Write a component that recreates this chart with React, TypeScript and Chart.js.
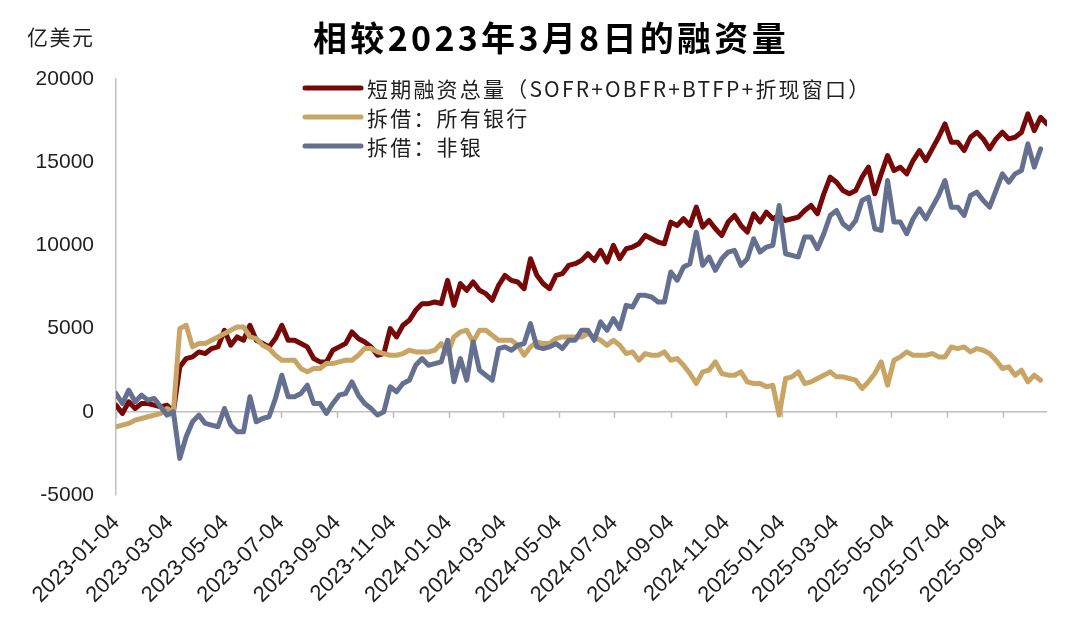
import React, { useEffect, useRef } from 'react';
import { Chart, registerables } from 'chart.js';

Chart.register(...registerables);

// ---------- data ----------
const titleText = '相较2023年3月8日的融资量';
const unitText = '亿美元';
const startDate = '2023-01-04'; // weekly observations (Wednesdays)

const tickLabels = [
  '2023-01-04', '2023-03-04', '2023-05-04', '2023-07-04', '2023-09-04', '2023-11-04',
  '2024-01-04', '2024-03-04', '2024-05-04', '2024-07-04', '2024-09-04', '2024-11-04',
  '2025-01-04', '2025-03-04', '2025-05-04', '2025-07-04', '2025-09-04',
];

const seriesNames = [
  '短期融资总量（SOFR+OBFR+BTFP+折现窗口）',
  '拆借：所有银行',
  '拆借：非银',
];

const totalFunding = [
  400, -100, 600, 200, 500, 500, 400, 300, 400, 0,
  2700, 3200, 3300, 3600, 3500, 3800, 3900, 4900, 4000, 4500,
  4300, 5200, 4300, 4100, 3900, 4400, 5200, 4300, 4300, 4100,
  3900, 3200, 3000, 3000, 3700, 3900, 4100, 4800, 4400, 4200,
  3900, 3400, 3500, 5000, 4500, 5200, 5500, 6100, 6500, 6500,
  6600, 6500, 7900, 6400, 7700, 7300, 7800, 7300, 7100, 6700,
  7600, 8200, 7900, 7800, 7400, 9200, 8200, 7700, 7400, 8200,
  8300, 8800, 8900, 9100, 9500, 9100, 9700, 9000, 10000, 9200,
  9800, 9900, 10100, 10600, 10400, 10200, 10100, 11400, 11200, 11600,
  11200, 12300, 11100, 11500, 11000, 10600, 11400, 11800, 11200, 10800,
  11900, 11400, 12000, 11600, 11800, 11500, 11600, 11700, 12100, 12400,
  11900, 13100, 14100, 13800, 13300, 13100, 13300, 14100, 14700, 13100,
  14300, 15400, 14500, 14700, 14300, 15100, 15700, 15100, 15800, 16500,
  17300, 16200, 16200, 15700, 16500, 16800, 16400, 15800, 16400, 16800,
  16400, 16500, 16800, 17900, 16900, 17700, 17300,
];

const allBanks = [
  -900, -800, -700, -500, -400, -300, -200, -100, 200, 0,
  5000, 5200, 3900, 4100, 4100, 4300, 4500, 4700, 4900, 5100,
  5100, 4500, 4400, 4000, 3800, 3400, 3100, 3100, 3100, 2600,
  2400, 2600, 2600, 2900, 2900, 3000, 3100, 3100, 3400, 3800,
  3800, 3600, 3500, 3400, 3400, 3500, 3700, 3600, 3600, 3600,
  3700, 4100, 3500, 4500, 4800, 4900, 4200, 4900, 4900, 4600,
  4300, 4300, 4300, 4000, 3400, 3900, 4200, 4100, 4100, 4400,
  4500, 4500, 4500, 4500, 4700, 4500, 4300, 4000, 4300, 4000,
  3500, 3600, 3100, 3500, 3400, 3400, 3600, 3100, 3200, 2800,
  2300, 1700, 2400, 2500, 3000, 2300, 2200, 2200, 2400, 1800,
  1700, 1700, 1500, 1600, -200, 2000, 2100, 2400, 1700, 1800,
  2000, 2200, 2400, 2100, 2100, 2000, 1900, 1400, 1800, 2300,
  3000, 1600, 3100, 3300, 3600, 3400, 3400, 3400, 3500, 3300,
  3300, 3900, 3800, 3900, 3600, 3800, 3700, 3500, 3100, 2600,
  2700, 2200, 2500, 1800, 2200, 1900,
];

const nonBanks = [
  1100, 500, 1300, 600, 1000, 700, 800, 300, -200, 0,
  -2800, -1500, -600, -200, -700, -800, -900, 200, -800, -1200,
  -1200, 900, -600, -400, -300, 800, 2200, 900, 900, 1100,
  1600, 500, 500, -100, 500, 1000, 1100, 1800, 1000, 500,
  200, -200, 0, 1500, 1200, 1700, 1900, 2800, 3200, 2800,
  2900, 3000, 4300, 1800, 3200, 1900, 4200, 2500, 2200, 1900,
  3800, 3900, 3700, 4000, 4100, 5300, 3900, 3800, 3900, 4100,
  3800, 4300, 4300, 4900, 4900, 4300, 5400, 4900, 5600, 5000,
  6400, 6300, 7000, 7000, 6900, 6600, 6600, 8400, 7900, 8700,
  8900, 10800, 8800, 9300, 8500, 9200, 9600, 9700, 8800, 9200,
  10400, 9600, 9900, 10000, 12400, 9500, 9400, 9300, 10500, 10500,
  9800, 10700, 11800, 12100, 11300, 11000, 11500, 12700, 12900, 11000,
  10900, 13900, 11400, 11400, 10700, 11600, 12200, 11600, 12300, 13000,
  13900, 12300, 12300, 11800, 13000, 13200, 12700, 12300, 13300, 14300,
  13800, 14300, 14500, 16100, 14700, 15800,
];

const yTicks = [-5000, 0, 5000, 10000, 15000, 20000];

// ---------- helpers ----------
const DAY = 86400000;
const parse = (s: string) => {
  const [y, m, d] = s.split('-').map(Number);
  return Date.UTC(y, m - 1, d);
};
const startMs = parse(startDate);
const dayOffset = (s: string) => Math.round((parse(s) - startMs) / DAY);
const toPoints = (vals: number[]) => vals.map((v, i) => ({ x: i * 7, y: v }));
const tickDays = tickLabels.map(dayOffset);
const lastDay = (totalFunding.length - 1) * 7;

const COLORS = ['#760808', '#C8A564', '#657090'];
const AXIS = '#BFBFBF';
const TEXT = '#1f1f1f';
const CJK = '"Noto Sans CJK SC", "Noto Sans", sans-serif';
const LATIN = '"Liberation Sans", Arial, sans-serif';

const decorPlugin = {
  id: 'decor',
  beforeDatasetsDraw(chart: any) {
    const { ctx, scales } = chart;
    const xs = scales.x;
    const y0 = scales.y.getPixelForValue(0);
    ctx.save();
    ctx.strokeStyle = AXIS;
    ctx.lineWidth = 1.5;
    xs.ticks.forEach((t: any) => {
      const px = Math.round(xs.getPixelForValue(t.value)) + 0.5;
      ctx.beginPath();
      ctx.moveTo(px, y0);
      ctx.lineTo(px, y0 + 6);
      ctx.stroke();
    });
    ctx.restore();
  },
  afterDraw(chart: any) {
    const { ctx } = chart;
    ctx.save();
    // title
    ctx.fillStyle = '#000';
    ctx.font = `bold 34px ${CJK}`;
    (ctx as any).letterSpacing = '3.3px';
    ctx.textAlign = 'center';
    ctx.textBaseline = 'middle';
    ctx.fillText(titleText, 551, 38);
    // unit
    ctx.font = `21px ${CJK}`;
    (ctx as any).letterSpacing = '1.5px';
    ctx.textAlign = 'left';
    ctx.fillStyle = TEXT;
    ctx.fillText(unitText, 27, 37);
    // legend
    const rows = [88, 117, 146];
    seriesNames.forEach((name, i) => {
      const y = rows[i];
      ctx.strokeStyle = COLORS[i];
      ctx.lineWidth = 5;
      ctx.lineCap = 'round';
      ctx.beginPath();
      ctx.moveTo(305, y);
      ctx.lineTo(361, y);
      ctx.stroke();
      ctx.fillStyle = TEXT;
      ctx.font = `21px ${CJK}`;
      (ctx as any).letterSpacing = '2.2px';
      ctx.textAlign = 'left';
      ctx.textBaseline = 'middle';
      ctx.fillText(name, 367, y + 1);
    });
    ctx.restore();
  },
};

export default function App() {
  const ref = useRef<HTMLCanvasElement | null>(null);

  useEffect(() => {
    if (!ref.current) return;
    const chart = new Chart(ref.current, {
      type: 'line',
      data: {
        datasets: [
          { label: seriesNames[0], data: toPoints(totalFunding), borderColor: COLORS[0], order: 2 },
          { label: seriesNames[1], data: toPoints(allBanks), borderColor: COLORS[1], order: 1 },
          { label: seriesNames[2], data: toPoints(nonBanks), borderColor: COLORS[2], order: 0 },
        ],
      },
      options: {
        animation: false,
        responsive: false,
        maintainAspectRatio: false,
        devicePixelRatio: 1,
        layout: { padding: { top: 79, right: 33, left: 0, bottom: 0 } },
        plugins: {
          legend: { display: false },
          title: { display: false },
          tooltip: { enabled: false },
        },
        elements: {
          point: { radius: 0, hoverRadius: 0 },
          line: {
            tension: 0,
            borderWidth: 5,
            borderJoinStyle: 'round',
            borderCapStyle: 'round',
            fill: false,
          },
        },
        scales: {
          x: {
            type: 'linear',
            min: 0,
            max: lastDay,
            grid: { display: false },
            border: { display: false },
            afterBuildTicks: (s: any) => {
              s.ticks = tickDays.map((v) => ({ value: v }));
            },
            afterFit: (s: any) => {
              s.height = 131;
            },
            ticks: {
              autoSkip: false,
              minRotation: 45,
              maxRotation: 45,
              padding: 7,
              color: TEXT,
              font: { family: LATIN, size: 22 },
              callback: (_v: any, i: number) => tickLabels[i],
            },
          },
          y: {
            type: 'linear',
            min: yTicks[0],
            max: yTicks[yTicks.length - 1],
            afterBuildTicks: (s: any) => {
              s.ticks = yTicks.map((v) => ({ value: v }));
            },
            afterFit: (s: any) => {
              s.width = 116;
            },
            grid: {
              drawTicks: false,
              lineWidth: 1.5,
              color: (c: any) => (c.tick && c.tick.value === 0 ? AXIS : 'rgba(0,0,0,0)'),
            },
            border: { display: true, color: AXIS, width: 1.5 },
            ticks: {
              padding: 22,
              color: TEXT,
              font: { family: LATIN, size: 21 },
              callback: (v: any) => String(v),
            },
          },
        },
      },
      plugins: [decorPlugin],
    });
    return () => chart.destroy();
  }, []);

  return (
    <div style={{ position: 'fixed', left: 0, top: 0, width: 1080, height: 626, background: '#fff' }}>
      <canvas ref={ref} width={1080} height={626} />
    </div>
  );
}
